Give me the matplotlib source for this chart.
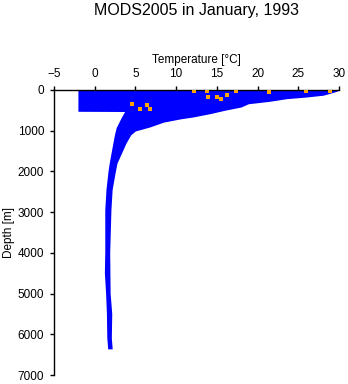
import numpy as np
import matplotlib
matplotlib.use('Agg')
import matplotlib.pyplot as plt

plt.rcParams['font.family'] = ['Liberation Sans', 'DejaVu Sans']

# %%
# envelope of the profile cloud
# left edge (coldest values) going down
left_depth = [0, 515, 520, 700, 940, 1100, 1310, 1800, 2000, 2450, 2950,
              4000, 4500, 5000, 5500, 6100, 6350]
left_temp = [-1.9, -1.9, 3.9, 3.4, 2.8, 2.6, 2.4, 1.95, 1.8, 1.55, 1.4,
             1.4, 1.35, 1.5, 1.6, 1.65, 1.75]
# right edge (warmest values) going down
right_depth = [0, 40, 120, 165, 205, 270, 330, 410, 490, 573, 655, 700, 780,
               900, 1000, 1100, 1310, 1800, 2000, 2450, 2950, 4000, 5000,
               5500, 6100, 6350]
right_temp = [30.0, 29.5, 28.1, 26.0, 23.6, 21.5, 18.9, 18.0, 16.0, 14.2,
              12.1, 10.6, 8.5, 6.8, 5.0, 4.4, 3.8, 2.7, 2.5, 2.1, 1.95, 1.8,
              1.85, 2.05, 2.0, 2.1]

# flagged observations (orange)
flag_temp = [12.2, 13.8, 13.95, 15.05, 15.55, 16.3, 17.3, 21.4, 25.95, 28.9,
             4.6, 5.5, 6.45, 6.85]
flag_depth = [16, 25, 172, 172, 221, 123, 33, 49, 33, 33,
              352, 467, 369, 475]

x_ticks = [-5, 0, 5, 10, 15, 20, 25, 30]
y_ticks = [0, 1000, 2000, 3000, 4000, 5000, 6000, 7000]

# %%
fig = plt.figure(figsize=(3.48, 3.84), dpi=100)
ax = fig.add_axes([54/348, 1 - 375/384, 285/348, 285/384])

px = np.concatenate([left_temp, right_temp[::-1]])
py = np.concatenate([left_depth, right_depth[::-1]])
ax.fill(px, py, color='#0000ff', lw=1.2, ec='#0000ff', zorder=2)
ax.scatter(flag_temp, flag_depth, marker='s', s=6, color='#ffa500',
           lw=0, zorder=3)

ax.set_xlim(-5, 30)
ax.set_ylim(7000, 0)
ax.set_xticks(x_ticks)
ax.set_yticks(y_ticks)
ax.xaxis.tick_top()
ax.xaxis.set_label_position('top')
for s in ['right', 'bottom']:
    ax.spines[s].set_visible(False)
for s in ['left', 'top']:
    ax.spines[s].set_linewidth(1.0)
ax.tick_params(direction='out', length=3, width=1, labelsize=8.5, pad=4)
ax.set_xlabel('Temperature [°C]', fontsize=8.5, labelpad=4)
ax.set_ylabel('Depth [m]', fontsize=8.5, labelpad=2)

fig.text(196.5/348, 1 - 10/384, 'MODS2005 in January, 1993', ha='center',
         va='center', fontsize=11.5)

fig.savefig('out.png', dpi=100)
